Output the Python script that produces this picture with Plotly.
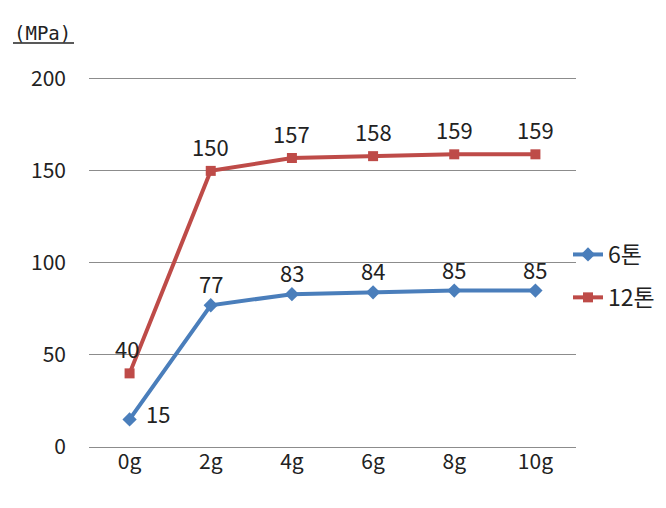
import plotly.graph_objects as go

categories = ["0g", "2g", "4g", "6g", "8g", "10g"]
series_6t = [15, 77, 83, 84, 85, 85]
series_12t = [40, 150, 157, 158, 159, 159]
y_ticks = [0, 50, 100, 150, 200]

BLUE = "#4A7EBB"
RED = "#BE4B48"
FONT = "Noto Sans CJK KR"
TXT = "#222222"

W, H = 666, 508
L, R, T, B = 89, 90, 77, 61
Y_MAX = 201  # a little headroom so the 200 gridline is drawn

fig = go.Figure()

fig.add_trace(go.Scatter(
    x=categories, y=series_6t, name="6톤", mode="lines+markers",
    legendgroup="g6",
    line=dict(color=BLUE, width=4),
    marker=dict(symbol="diamond", size=11, color=BLUE),
))
fig.add_trace(go.Scatter(
    x=categories, y=series_12t, name="12톤", mode="lines+markers",
    legendgroup="g12",
    line=dict(color=RED, width=4),
    marker=dict(symbol="square", size=10, color=RED),
))

# value labels: above each point, except the first 6톤 point (to its right)
for i, (cat, v) in enumerate(zip(categories, series_6t)):
    fig.add_annotation(
        x=cat, y=v, text=str(v), showarrow=False,
        xshift=28 if i == 0 else 0, yshift=6 if i == 0 else 22,
        font=dict(size=22, color=TXT, family=FONT),
    )
for i, (cat, v) in enumerate(zip(categories, series_12t)):
    fig.add_annotation(
        x=cat, y=v, text=str(v), showarrow=False, yshift=25,
        xshift=-3 if i == 0 else 0,
        font=dict(size=22, color=TXT, family=FONT),
    )

fig.update_layout(
    width=W, height=H,
    margin=dict(l=L, r=R, t=T, b=B, autoexpand=False),
    paper_bgcolor="white", plot_bgcolor="white",
    font=dict(family=FONT, size=21, color=TXT),
    showlegend=True,
    legend=dict(
        xref="container", yref="container",
        x=568 / W, y=1 - 233 / H, xanchor="left", yanchor="top",
        font=dict(size=23, family=FONT),
        bgcolor="rgba(0,0,0,0)", tracegroupgap=10,
        itemwidth=30,
    ),
    xaxis=dict(
        type="category", range=[-0.5, len(categories) - 0.5],
        showgrid=False, zeroline=False,
        showline=False, ticks="", tickfont=dict(size=21),
    ),
    yaxis=dict(
        range=[0, Y_MAX], tickvals=y_ticks, showgrid=True,
        gridcolor="#8C8C8C", gridwidth=1, zeroline=True,
        zerolinecolor="#8C8C8C", zerolinewidth=1,
        showline=False, ticks="", ticklabelstandoff=22,
        tickfont=dict(size=21),
    ),
)

# unit caption above the value axis, with its underline
pw, ph = W - L - R, H - T - B
fig.add_annotation(
    x=(12 - L) / pw, y=(H - B - 33) / ph, xref="paper", yref="paper",
    text="(MPa)", showarrow=False, xanchor="left", yanchor="middle",
    font=dict(family="DejaVu Sans Mono", size=19, color=TXT),
)
fig.add_shape(
    type="line", xref="paper", yref="paper",
    x0=(13 - L) / pw, x1=(74 - L) / pw,
    y0=(H - B - 43) / ph, y1=(H - B - 43) / ph,
    line=dict(color=TXT, width=1.5),
)

fig.write_html("out.html")
